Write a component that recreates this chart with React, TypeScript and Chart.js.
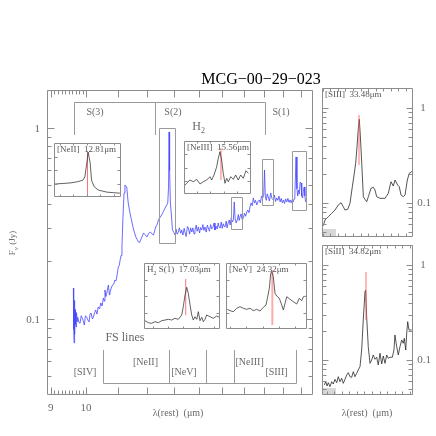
import React, { useEffect, useRef } from "react";
import { Chart, registerables } from "chart.js";

Chart.register(...registerables);

const SIZE = 436;
const SERIF = '"Liberation Serif", "DejaVu Serif", "Times New Roman", serif';
const FRAME = "#8c8c8c";
const LABEL = "#6a6a6a";

// ---------------- main spectrum (rest wavelength in micron, flux in Jy)
const specWave = [
  9.628, 9.638, 9.648, 9.66, 9.668, 9.677, 9.69, 9.706, 9.72, 9.737, 9.755, 9.79, 9.823, 9.856, 9.89, 9.92,
  9.949, 9.98, 10.02, 10.05, 10.09, 10.12, 10.15, 10.19, 10.22, 10.26, 10.29, 10.33, 10.37, 10.41, 10.45,
  10.49, 10.53, 10.56, 10.58, 10.61, 10.64, 10.67, 10.69, 10.72, 10.74, 10.78, 10.82, 10.86, 10.9, 10.93,
  10.96, 11.01, 11.04, 11.07, 11.1, 11.13, 11.16, 11.2, 11.23, 11.26, 11.29, 11.34, 11.4, 11.45, 11.51,
  11.55, 11.6, 11.64, 11.69, 11.73, 11.78, 11.83, 11.87, 11.93, 11.99, 12.05, 12.11, 12.17, 12.23, 12.27,
  12.31, 12.36, 12.41, 12.47, 12.53, 12.6, 12.66, 12.72, 12.76, 12.79, 12.81, 12.83, 12.86, 12.9, 12.94,
  12.99, 13.04, 13.08, 13.12, 13.17, 13.21, 13.26, 13.3, 13.35, 13.4, 13.44, 13.48, 13.53, 13.57, 13.62,
  13.66, 13.71, 13.75, 13.8, 13.84, 13.89, 13.93, 13.98, 14.03, 14.07, 14.12, 14.17, 14.21, 14.26, 14.31,
  14.36, 14.4, 14.45, 14.5, 14.55, 14.6, 14.65, 14.69, 14.74, 14.79, 14.83, 14.88, 14.92, 14.97, 15.01,
  15.06, 15.1, 15.14, 15.19, 15.23, 15.28, 15.33, 15.37, 15.42, 15.47, 15.52, 15.56, 15.6, 15.65, 15.7,
  15.75, 15.79, 15.83, 15.88, 15.93, 15.99, 16.04, 16.1, 16.15, 16.2, 16.26, 16.31, 16.36, 16.42, 16.47,
  16.53, 16.58, 16.64, 16.7, 16.77, 16.82, 16.88, 16.94, 16.99, 17.03, 17.07, 17.12, 17.17, 17.22, 17.28,
  17.35, 17.41, 17.48, 17.54, 17.6, 17.66, 17.72, 17.78, 17.84, 17.9, 17.96, 18.02, 18.08, 18.14, 18.2,
  18.26, 18.32, 18.38, 18.44, 18.5, 18.55, 18.6, 18.64, 18.71, 18.76, 18.8, 18.85, 18.89, 18.94, 18.99,
  19.03, 19.08, 19.12, 19.17, 19.21, 19.25,
];
const specFlux = [
  0.145, 0.088, 0.075, 0.125, 0.083, 0.112, 0.094, 0.091, 0.108, 0.097, 0.102, 0.096, 0.095, 0.104, 0.101, 0.097,
  0.093, 0.104, 0.102, 0.099, 0.0965, 0.106, 0.1075, 0.1, 0.1024, 0.108, 0.1115, 0.106, 0.1156, 0.113, 0.1213,
  0.117, 0.1288, 0.124, 0.1418, 0.131, 0.1368, 0.146, 0.1507, 0.134, 0.1384, 0.145, 0.1507, 0.152, 0.16, 0.158,
  0.1659, 0.1872, 0.19, 0.2037, 0.215, 0.2382, 0.33, 0.4567, 0.5029, 0.495, 0.491, 0.4049, 0.3589, 0.33, 0.2996,
  0.285, 0.2688, 0.262, 0.253, 0.251, 0.262, 0.272, 0.282, 0.276, 0.2688, 0.28, 0.2855, 0.279, 0.2754, 0.29,
  0.3032, 0.312, 0.33, 0.34, 0.3504, 0.366, 0.3813, 0.395, 0.4049, 0.49, 0.953, 0.6, 0.4049, 0.35, 0.2924,
  0.285, 0.2754, 0.295, 0.278, 0.2855, 0.3, 0.281, 0.2924, 0.275, 0.298, 0.282, 0.27, 0.305, 0.2996, 0.278,
  0.3, 0.2855, 0.3, 0.279, 0.2924, 0.31, 0.288, 0.3032, 0.282, 0.301, 0.2924, 0.312, 0.291, 0.3032, 0.285,
  0.31, 0.2996, 0.288, 0.312, 0.296, 0.302, 0.318, 0.2924, 0.306, 0.296, 0.318, 0.301, 0.2996, 0.322, 0.298,
  0.315, 0.305, 0.3032, 0.325, 0.3, 0.318, 0.33, 0.3105, 0.338, 0.322, 0.33, 0.41, 0.335, 0.318, 0.33,
  0.352, 0.328, 0.342, 0.355, 0.332, 0.3379, 0.358, 0.345, 0.3633, 0.372, 0.36, 0.3858, 0.405, 0.392, 0.43,
  0.405, 0.418, 0.3953, 0.412, 0.4198, 0.405, 0.44, 0.43, 0.445, 0.6027, 0.44, 0.418, 0.452, 0.4352, 0.415,
  0.4567, 0.428, 0.4198, 0.445, 0.412, 0.43, 0.418, 0.44, 0.41, 0.428, 0.405, 0.4198, 0.402, 0.425, 0.41,
  0.428, 0.408, 0.4198, 0.405, 0.422, 0.41, 0.425, 0.4352, 0.7049, 0.48, 0.44, 0.4734, 0.45, 0.52, 0.5152,
  0.44, 0.43, 0.465, 0.491, 0.44, 0.41,
];

// axis ranges and ticks of the main panel
const mainXRange = [8.9, 19.68];
const mainYRange = [0.04, 1.58];
const mainXMajorTicks = [9, 10, 11, 12, 13, 14, 15, 16, 17, 18, 19];
const mainXMinorTicks = [9.1, 9.2, 9.3, 9.4, 9.5, 9.6, 9.7, 9.8, 9.9];
const mainXTickLabels = ["9", "10"];
const mainYMajorTicks = [0.1, 1];
const mainYMinorTicks = [0.05, 0.06, 0.07, 0.08, 0.09, 0.2, 0.3, 0.4, 0.5, 0.6, 0.7, 0.8, 0.9];
const mainYTickLabels = ["0.1", "1"];

// boxes around the lines [λmin, λmax, Fmin, Fmax]
const lineBoxes = [
  [12.43, 13.04, 0.25, 1.0],
  [15.41, 15.92, 0.296, 0.435],
  [16.9, 17.47, 0.395, 0.688],
  [18.49, 19.28, 0.372, 0.758],
];

// H2 and fine-structure line identifications
const h2Waves = [9.66, 12.28, 17.03];
const h2Names = ["S(3)", "S(2)", "S(1)"];
const fsWaves = [10.51, 12.81, 14.32, 15.56, 18.71];
const fsNames = ["[SIV]", "[NeII]", "[NeV]", "[NeIII]", "[SIII]"];

// ---------------- insets (normalised flux)
const neIIWave = [12.325, 12.43, 12.55, 12.65, 12.74, 12.77, 12.8, 12.82, 12.85, 12.87, 12.91, 12.97, 13.03, 13.1, 13.2, 13.3];
const neIIFlux = [0.24, 0.25, 0.26, 0.28, 0.31, 0.37, 0.63, 0.83, 0.63, 0.31, 0.19, 0.13, 0.11, 0.09, 0.08, 0.07];
const neIIIWave = [
  15.012, 15.048, 15.097, 15.147, 15.197, 15.247, 15.296, 15.347, 15.396, 15.421, 15.456, 15.496, 15.52, 15.545,
  15.57, 15.594, 15.62, 15.645, 15.669, 15.705, 15.744, 15.779, 15.818, 15.854, 15.893, 15.933, 15.968,
];
const neIIIFlux = [
  0.151, 0.202, 0.264, 0.232, 0.277, 0.189, 0.232, 0.264, 0.326, 0.264, 0.358, 0.515, 0.674, 0.798, 0.642, 0.391,
  0.202, 0.296, 0.232, 0.326, 0.277, 0.358, 0.264, 0.358, 0.296, 0.44, 0.391,
];
const h2s1Wave = [
  16.494, 16.538, 16.583, 16.626, 16.669, 16.714, 16.758, 16.801, 16.846, 16.889, 16.933, 16.977, 16.998, 17.021,
  17.043, 17.064, 17.087, 17.109, 17.13, 17.152, 17.175, 17.196, 17.218, 17.241, 17.262, 17.284, 17.306, 17.35,
  17.393, 17.438, 17.472,
];
const h2s1Flux = [
  0.126, 0.095, 0.086, 0.111, 0.095, 0.126, 0.136, 0.147, 0.136, 0.162, 0.147, 0.212, 0.338, 0.515, 0.632, 0.541,
  0.364, 0.212, 0.136, 0.186, 0.147, 0.262, 0.126, 0.177, 0.111, 0.147, 0.212, 0.186, 0.162, 0.197, 0.177,
];
const neVWave = [
  23.764, 23.798, 23.839, 23.88, 23.921, 23.962, 24.004, 24.045, 24.085, 24.127, 24.168, 24.209, 24.242, 24.263,
  24.283, 24.3, 24.313, 24.332, 24.353, 24.374, 24.406, 24.436, 24.456, 24.477, 24.498, 24.539, 24.579, 24.621,
  24.653, 24.683, 24.703, 24.745,
];
const neVFlux = [
  0.298, 0.277, 0.262, 0.314, 0.338, 0.314, 0.298, 0.314, 0.277, 0.298, 0.273, 0.329, 0.364, 0.489, 0.617, 0.844,
  0.868, 0.792, 0.541, 0.5, 0.465, 0.364, 0.288, 0.389, 0.489, 0.45, 0.414, 0.379, 0.465, 0.429, 0.489, 0.5,
];

// ---------------- right-hand panels (flux in Jy)
const siiiWave = [
  33.009, 33.032, 33.075, 33.12, 33.164, 33.207, 33.243, 33.273, 33.295, 33.331, 33.361, 33.392, 33.418, 33.436,
  33.454, 33.471, 33.484, 33.497, 33.516, 33.537, 33.559, 33.582, 33.603, 33.638, 33.669, 33.691, 33.713, 33.757,
  33.823, 33.866, 33.902, 33.932, 33.955, 33.99, 34.011, 34.034, 34.064, 34.087, 34.117, 34.143, 34.175, 34.188,
];
const siiiFlux = [
  0.0577, 0.0663, 0.0718, 0.0779, 0.0844, 0.0953, 0.1007, 0.0914, 0.0844, 0.0859, 0.0993, 0.1485, 0.2054, 0.2618,
  0.3914, 0.6113, 0.7603, 0.5196, 0.2618, 0.1165, 0.1094, 0.1032, 0.1165, 0.1428, 0.1463, 0.137, 0.1165, 0.1121,
  0.1121, 0.1265, 0.1676, 0.151, 0.1746, 0.1547, 0.1485, 0.1214, 0.1165, 0.1214, 0.1746, 0.2054, 0.2136, 0.2188,
];
const siiWave = [
  34.27, 34.289, 34.306, 34.323, 34.345, 34.368, 34.389, 34.411, 34.434, 34.455, 34.477, 34.5, 34.521, 34.543,
  34.566, 34.587, 34.609, 34.631, 34.653, 34.675, 34.697, 34.718, 34.741, 34.763, 34.784, 34.807, 34.816, 34.829,
  34.85, 34.873, 34.895, 34.916, 34.939, 34.961, 34.982, 35.005, 35.027, 35.048, 35.071, 35.093, 35.114, 35.136,
  35.167, 35.189, 35.202, 35.225, 35.246, 35.268, 35.291, 35.312, 35.325, 35.344, 35.357, 35.37, 35.387, 35.423,
];
const siiFlux = [
  0.0546, 0.0591, 0.0533, 0.0577, 0.0524, 0.0591, 0.0559, 0.0626, 0.0577, 0.0667, 0.0591, 0.0642, 0.0568, 0.0626,
  0.0695, 0.0735, 0.0667, 0.0657, 0.0753, 0.0667, 0.0724, 0.0785, 0.085, 0.1274, 0.2637, 0.5236, 0.5456, 0.2857,
  0.138, 0.0923, 0.1, 0.1129, 0.1017, 0.1068, 0.0886, 0.1176, 0.0908, 0.1102, 0.0923, 0.1129, 0.1042, 0.1068,
  0.1068, 0.1274, 0.1833, 0.138, 0.1129, 0.138, 0.1624, 0.1499, 0.1692, 0.1274, 0.191, 0.253, 0.2069, 0.2069,
];
const rightYMajorTicks = [0.1, 1];
const rightYMinorTicks = [0.05, 0.06, 0.07, 0.08, 0.09, 0.2, 0.3, 0.4, 0.5, 0.6, 0.7, 0.8, 0.9];

// ---------------- helpers
type Ctx = CanvasRenderingContext2D;

function pts(xs: number[], ys: number[]) {
  return xs.map((x, i) => ({ x, y: ys[i] }));
}

function lineSet(xs: number[], ys: number[], color: string, width: number) {
  return {
    data: pts(xs, ys),
    showLine: true,
    borderColor: color,
    borderWidth: width,
    pointRadius: 0,
    fill: false,
    tension: 0,
  };
}

function txt(ctx: Ctx, s: string, x: number, y: number, size: number, color: string, align: CanvasTextAlign = "center") {
  ctx.font = `${size}px ${SERIF}`;
  ctx.fillStyle = color;
  ctx.textAlign = align;
  ctx.textBaseline = "middle";
  ctx.fillText(s, x, y);
}

function frameAndTicks(
  c: any,
  xMaj: number[],
  xMin: number[],
  yMaj: number[],
  yMin: number[],
  majLen: number,
  minLen: number,
  xLen?: number
) {
  const ctx: Ctx = c.ctx;
  const a = c.chartArea;
  const xs = c.scales.x;
  const ys = c.scales.y;
  ctx.save();
  ctx.strokeStyle = FRAME;
  ctx.lineWidth = 1;
  ctx.beginPath();
  const L = Math.round(a.left) + 0.5, R = Math.round(a.right) - 0.5;
  const T = Math.round(a.top) + 0.5, B = Math.round(a.bottom) - 0.5;
  ctx.rect(L, T, R - L, B - T);
  const xt = (v: number, len: number) => {
    const p = Math.round(xs.getPixelForValue(v)) + 0.5;
    if (p < L + 1 || p > R - 1) return;
    ctx.moveTo(p, B); ctx.lineTo(p, B - len);
    ctx.moveTo(p, T); ctx.lineTo(p, T + len);
  };
  const yt = (v: number, len: number) => {
    const p = Math.round(ys.getPixelForValue(v)) + 0.5;
    if (p < T + 1 || p > B - 1) return;
    ctx.moveTo(L, p); ctx.lineTo(L + len, p);
    ctx.moveTo(R, p); ctx.lineTo(R - len, p);
  };
  xMaj.forEach((v) => xt(v, xLen ?? majLen));
  xMin.forEach((v) => xt(v, minLen));
  yMaj.forEach((v) => yt(v, majLen));
  yMin.forEach((v) => yt(v, minLen));
  ctx.stroke();
  ctx.restore();
}

function stepTicks(min: number, max: number, step: number) {
  const out: number[] = [];
  for (let k = Math.ceil(min / step); k * step <= max; k++) out.push(+(k * step).toFixed(4));
  return out;
}

function baseConfig(pad: number[], x: any, y: any, datasets: any[], draw: (c: any) => void, white: boolean) {
  return {
    type: "scatter" as const,
    data: { datasets },
    options: {
      animation: false as const,
      responsive: false,
      maintainAspectRatio: false,
      devicePixelRatio: 1,
      events: [] as any[],
      layout: { padding: { left: pad[0], top: pad[1], right: SIZE - pad[2], bottom: SIZE - pad[3] } },
      plugins: { legend: { display: false }, tooltip: { enabled: false }, title: { display: false } },
      scales: {
        x: { ...x, display: false },
        y: { ...y, display: false },
      },
    },
    plugins: [
      {
        id: "deco",
        beforeDraw(c: any) {
          if (!white) return;
          const a = c.chartArea;
          c.ctx.save();
          c.ctx.fillStyle = "#ffffff";
          c.ctx.fillRect(a.left, a.top, a.right - a.left, a.bottom - a.top);
          c.ctx.restore();
        },
        afterDraw(c: any) {
          draw(c);
        },
      },
    ],
  };
}

// ---------------- panel definitions
function mainConfig() {
  const draw = (c: any) => {
    const ctx: Ctx = c.ctx;
    const X = (v: number) => c.scales.x.getPixelForValue(v);
    const Y = (v: number) => c.scales.y.getPixelForValue(v);
    frameAndTicks(c, mainXMajorTicks, mainXMinorTicks, mainYMajorTicks, mainYMinorTicks, 7, 4);
    ctx.save();
    ctx.strokeStyle = "#9a9a9a";
    ctx.lineWidth = 1;
    // boxes around the lines
    ctx.beginPath();
    lineBoxes.forEach((b) => {
      const x0 = Math.round(X(b[0])) + 0.5, x1 = Math.round(X(b[1])) + 0.5;
      const y0 = Math.round(Y(b[3])) + 0.5, y1 = Math.round(Y(b[2])) + 0.5;
      ctx.rect(x0, y0, x1 - x0, y1 - y0);
    });
    // H2 bracket
    const hTop = Math.round(Y(1.368)) + 0.5, hBot = Y(0.919);
    ctx.moveTo(Math.round(X(h2Waves[0])) + 0.5, hTop);
    ctx.lineTo(Math.round(X(h2Waves[2])) + 0.5, hTop);
    h2Waves.forEach((w) => {
      const p = Math.round(X(w)) + 0.5;
      ctx.moveTo(p, hTop); ctx.lineTo(p, hBot);
    });
    // FS bracket
    const fTop = Y(0.0688), fBot = Math.round(Y(0.0462)) + 0.5;
    ctx.moveTo(Math.round(X(fsWaves[0])) + 0.5, fBot);
    ctx.lineTo(Math.round(X(fsWaves[fsWaves.length - 1])) + 0.5, fBot);
    fsWaves.forEach((w) => {
      const p = Math.round(X(w)) + 0.5;
      ctx.moveTo(p, fTop); ctx.lineTo(p, fBot);
    });
    ctx.stroke();

    // bracket labels
    const h2LabelWaves = [10.27, 12.96, 17.89];
    h2Names.forEach((n, i) => txt(ctx, n, X(h2LabelWaves[i]), Y(1.213), 10, LABEL));
    const hx = X(14.17), hy = Y(1.01);
    txt(ctx, "H", hx - 2, hy, 12, LABEL, "right");
    txt(ctx, "2", hx - 2, hy + 4, 8, LABEL, "left");
    const fsLabelWaves = [9.97, 11.94, 13.39, 16.29, 17.65];
    const fsLabelFlux = [0.0528, 0.059, 0.0528, 0.059, 0.0528];
    fsNames.forEach((n, i) => txt(ctx, n, X(fsLabelWaves[i]), Y(fsLabelFlux[i]), 10, LABEL));
    txt(ctx, "FS lines", X(11.23), Y(0.0795), 12, LABEL);

    // tick labels
    mainXTickLabels.forEach((s) => txt(ctx, s, X(parseFloat(s)), 408, 11, LABEL));
    mainYTickLabels.forEach((s) => txt(ctx, s, 40, Y(parseFloat(s)) + 1, 11, LABEL, "right"));

    // axis titles
    txt(ctx, "λ(rest)  (μm)", 178, 413, 10, LABEL);
    txt(ctx, "λ(rest)  (μm)", 367, 413, 10, LABEL);
    ctx.save();
    ctx.translate(13, 243);
    ctx.rotate(-Math.PI / 2);
    ctx.font = `9px ${SERIF}`;
    const w1 = ctx.measureText("F").width;
    ctx.font = `7px ${SERIF}`;
    const w2 = ctx.measureText("ν").width;
    ctx.font = `9px ${SERIF}`;
    const w3 = ctx.measureText(" (Jy)").width;
    let sx = -(w1 + w2 + w3) / 2;
    txt(ctx, "F", sx, 0, 9, LABEL, "left");
    sx += w1;
    txt(ctx, "ν", sx, 3, 7, LABEL, "left");
    sx += w2;
    txt(ctx, " (Jy)", sx, 0, 9, LABEL, "left");
    ctx.restore();

    // title
    txt(ctx, "MCG−00−29−023", 261, 80, 16, "#000000");
    ctx.restore();
  };
  return baseConfig(
    [47, 90, 313, 395],
    { type: "logarithmic", min: mainXRange[0], max: mainXRange[1] },
    { type: "logarithmic", min: mainYRange[0], max: mainYRange[1] },
    [lineSet(specWave, specFlux, "rgb(70,70,255)", 0.8)],
    draw,
    false
  );
}

function insetConfig(
  box: number[],
  xr: number[],
  wave: number[],
  flux: number[],
  lineWave: number,
  marker: number[],
  label: (ctx: Ctx, x: number, y: number) => void,
  redColor: string,
  redWidth: number
) {
  const draw = (c: any) => {
    frameAndTicks(c, stepTicks(xr[0], xr[1], 0.2), [], stepTicks(0.05, 0.8, 0.25), [], 3, 2, 2);
    label(c.ctx, box[0] + 3, box[1] + 7);
  };
  return baseConfig(
    box,
    { type: "linear", min: xr[0], max: xr[1] },
    { type: "linear", min: 0, max: 1 },
    [
      lineSet(wave, flux, "#3a3a3a", 0.8),
      lineSet([lineWave, lineWave], marker, redColor, redWidth),
    ],
    draw,
    true
  );
}

function simpleLabel(s: string) {
  return (ctx: Ctx, x: number, y: number) => txt(ctx, s, x, y, 9, "#555", "left");
}

function h2Label(ctx: Ctx, x: number, y: number) {
  ctx.font = `9px ${SERIF}`;
  txt(ctx, "H", x, y, 9, "#555", "left");
  ctx.font = `9px ${SERIF}`;
  const w = ctx.measureText("H").width;
  txt(ctx, "2", x + w, y + 3, 6, "#555", "left");
  txt(ctx, " S(1)  17.03μm", x + w + 3, y, 9, "#555", "left");
}

function rightConfig(box: number[], xr: number[], yr: number[], wave: number[], flux: number[], lineWave: number, marker: number[], label: string, patches: number[][]) {
  const draw = (c: any) => {
    const ctx: Ctx = c.ctx;
    ctx.save();
    ctx.fillStyle = "rgba(205,205,205,0.8)";
    patches.forEach((p) => ctx.fillRect(p[0], p[1], p[2], p[3]));
    ctx.restore();
    frameAndTicks(c, stepTicks(xr[0], xr[1], 0.1), [], rightYMajorTicks, rightYMinorTicks, 6, 4, 3);
    txt(ctx, label, box[0] + 3, box[1] + 7, 9, "#555", "left");
    txt(ctx, "1", 423, c.scales.y.getPixelForValue(1), 11, LABEL);
    txt(ctx, "0.1", 424, c.scales.y.getPixelForValue(0.1), 11, LABEL);
  };
  return baseConfig(
    box,
    { type: "linear", min: xr[0], max: xr[1] },
    { type: "logarithmic", min: yr[0], max: yr[1] },
    [
      lineSet([lineWave, lineWave], marker, "rgba(255,90,90,0.85)", 1),
      lineSet(wave, flux, "#2a2a2a", 0.8),
    ],
    draw,
    true
  );
}

function allConfigs() {
  return [
    mainConfig(),
    insetConfig([54, 143, 121, 197], [12.31, 13.31], neIIWave, neIIFlux, 12.81, [0, 0.85], simpleLabel("[NeII]  12.81μm"), "rgba(255,90,90,0.85)", 1),
    insetConfig([184, 141, 251, 194], [15.008, 16.008], neIIIWave, neIIIFlux, 15.56, [0.264, 0.868], simpleLabel("[NeIII]  15.56μm"), "rgba(255,90,90,0.85)", 1),
    insetConfig([144, 263, 220, 329], [16.481, 17.481], h2s1Wave, h2s1Flux, 17.03, [0.212, 0.758], h2Label, "rgba(255,90,90,0.85)", 1),
    insetConfig([226, 263, 307, 329], [23.748, 24.748], neVWave, neVFlux, 24.32, [0.06, 0.894], simpleLabel("[NeV]  24.32μm"), "rgba(255,150,150,0.8)", 2),
    rightConfig([322, 88, 413, 237], [32.992, 34.192], [0.0439, 1.624], siiiWave, siiiFlux, 33.48, [0.251, 0.844], "[SIII]  33.48μm", [[322, 229, 14, 8]]),
    rightConfig([322, 245, 413, 395], [34.24, 35.44], [0.0428, 1.624], siiWave, siiFlux, 34.82, [0.264, 0.844], "[SiII]  34.82μm", [[322, 388, 14, 7]]),
  ];
}

export default function App() {
  const refs = useRef<(HTMLCanvasElement | null)[]>([]);
  useEffect(() => {
    const cfgs = allConfigs();
    const charts = cfgs.map((cfg, i) => new Chart(refs.current[i] as HTMLCanvasElement, cfg as any));
    return () => charts.forEach((ch) => ch.destroy());
  }, []);
  const n = 7;
  return (
    <div style={{ position: "fixed", left: 0, top: 0, width: SIZE, height: SIZE, background: "#fff" }}>
      {Array.from({ length: n }).map((_, i) => (
        <canvas
          key={i}
          ref={(el) => {
            refs.current[i] = el;
          }}
          width={SIZE}
          height={SIZE}
          style={{ position: "absolute", left: 0, top: 0, width: SIZE, height: SIZE }}
        />
      ))}
    </div>
  );
}
